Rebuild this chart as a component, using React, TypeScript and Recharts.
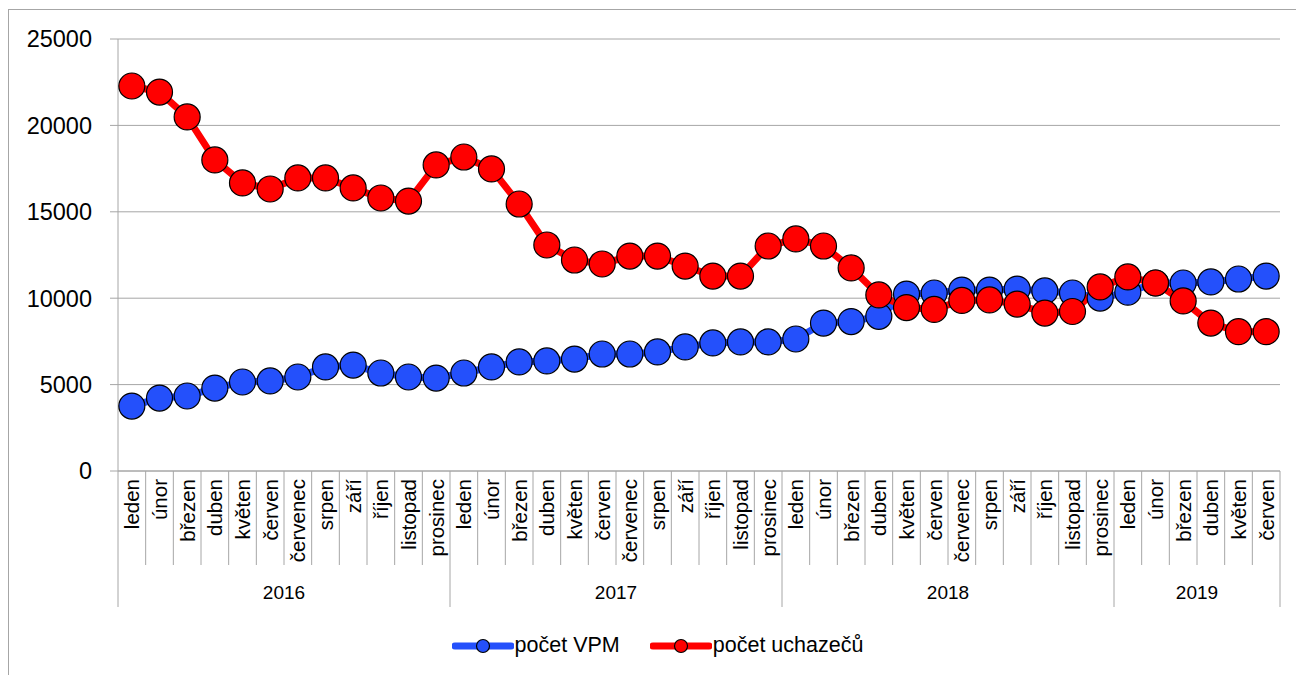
import React from "react";
import {
  ComposedChart,
  Line,
  CartesianGrid,
  XAxis,
  YAxis,
  Legend,
} from "recharts";

const years = ["2016", "2017", "2018", "2019"];
const monthsPerYear = [12, 12, 12, 6];
const monthNames = [
  "leden",
  "únor",
  "březen",
  "duben",
  "květen",
  "červen",
  "červenec",
  "srpen",
  "září",
  "říjen",
  "listopad",
  "prosinec",
];

// počet VPM
const vpm = [
  3760, 4220, 4340, 4800, 5150, 5210, 5440, 6020, 6130, 5670, 5440, 5380,
  5670, 6020, 6310, 6370, 6480, 6770, 6770, 6890, 7180, 7410, 7470, 7470,
  7640, 8560, 8650, 8950, 10240, 10300, 10470, 10470, 10530, 10420, 10300, 10010,
  10350, 10880, 10880, 10940, 11110, 11280,
];

// počet uchazečů
const uchazeci = [
  22280, 21930, 20490, 18000, 16670, 16320, 16960, 16960, 16380, 15800, 15620, 17710,
  18170, 17480, 15450, 13080, 12210, 11980, 12440, 12440, 11860, 11280, 11280, 13020,
  13430, 13020, 11750, 10190, 9460, 9350, 9870, 9900, 9660, 9140, 9230, 10650,
  11230, 10880, 9840, 8560, 8060, 8060,
];

const yTicks = [0, 5000, 10000, 15000, 20000, 25000];

const rows: any[] = [];
years.forEach((year, k) => {
  const count = monthsPerYear[k];
  for (let m = 0; m < count; m++) {
    const i = rows.length;
    rows.push({
      key: `${year}-${m}`,
      month: monthNames[m],
      year,
      count,
      first: m === 0,
      last: m === count - 1,
      vpm: vpm[i],
      uchazeci: uchazeci[i],
    });
  }
});

const W = 1296;
const H = 675;
const PLOT_LEFT = 118;
const PLOT_RIGHT = 1280;
const PLOT_TOP = 39;
const PLOT_BOTTOM = 471;
const Y_AXIS_W = 80;
const X_AXIS_H = 136;
const STEP = (PLOT_RIGHT - PLOT_LEFT) / rows.length;

const FONT = "'Liberation Sans', Arial, sans-serif";
const GRID = "#a6a6a6";
const BLUE = "#2450fb";
const RED = "#ff0000";

function MonthTick(props: any) {
  const { x, y, payload } = props;
  const row = rows[payload.index];
  if (!row) return null;
  const right = x + STEP / 2;
  const left = x - STEP / 2;
  return (
    <g>
      {payload.index === 0 && (
        <line x1={left} y1={y} x2={left} y2={y + 136} stroke={GRID} />
      )}
      <line
        x1={right}
        y1={y}
        x2={right}
        y2={y + (row.last ? 136 : 94)}
        stroke={GRID}
      />
      <text
        x={x}
        y={y + 8}
        transform={`rotate(-90 ${x} ${y + 8})`}
        textAnchor="end"
        dominantBaseline="central"
        fontFamily={FONT}
        fontSize={20.5}
        fill="#000"
      >
        {row.month}
      </text>
      {row.first && (
        <text
          x={left + (row.count * STEP) / 2}
          y={y + 121}
          textAnchor="middle"
          dominantBaseline="central"
          fontFamily={FONT}
          fontSize={19}
          fill="#000"
        >
          {row.year}
        </text>
      )}
    </g>
  );
}

function LegendContent() {
  const items = [
    { name: "počet VPM", color: BLUE },
    { name: "počet uchazečů", color: RED },
  ];
  return (
    <div
      style={{
        display: "flex",
        justifyContent: "center",
        gap: 30,
        fontFamily: FONT,
        fontSize: 21.5,
        color: "#000",
        paddingLeft: 19,
      }}
    >
      {items.map((it) => (
        <div key={it.name} style={{ display: "flex", alignItems: "center" }}>
          <svg width={62} height={20}>
            <line
              x1={3}
              y1={10}
              x2={59}
              y2={10}
              stroke={it.color}
              strokeWidth={7}
              strokeLinecap="round"
            />
            <circle cx={31} cy={10} r={6.5} fill={it.color} stroke="#000" strokeWidth={1.2} />
          </svg>
          <span style={{ marginLeft: 1 }}>{it.name}</span>
        </div>
      ))}
    </div>
  );
}

export default function App() {
  return (
    <div
      style={{
        position: "absolute",
        left: 0,
        top: 0,
        width: W,
        height: H,
        overflow: "hidden",
        background: "#fff",
      }}
    >
      <div
        style={{
          position: "absolute",
          left: 8,
          top: 9,
          width: W + 40,
          height: H + 40,
          border: "1px solid #a6a6a6",
        }}
      />
      <div style={{ position: "absolute", left: 0, top: 0 }}>
        <ComposedChart
          width={W}
          height={H}
          data={rows}
          margin={{
            top: PLOT_TOP,
            right: W - PLOT_RIGHT,
            left: PLOT_LEFT - Y_AXIS_W,
            bottom: H - PLOT_BOTTOM - X_AXIS_H,
          }}
        >
          <CartesianGrid vertical={false} stroke={GRID} strokeWidth={1} />
          <XAxis
            dataKey="key"
            scale="band"
            interval={0}
            height={X_AXIS_H}
            tickSize={0}
            tickMargin={0}
            tickLine={false}
            axisLine={{ stroke: GRID }}
            tick={<MonthTick />}
          />
          <YAxis
            width={Y_AXIS_W}
            domain={[0, 25000]}
            ticks={yTicks}
            interval={0}
            tickSize={8}
            tickMargin={18}
            axisLine={{ stroke: GRID }}
            tickLine={{ stroke: GRID }}
            tick={{ fontFamily: FONT, fontSize: 23.5, fill: "#000" }}
          />
          <Legend
            verticalAlign="middle"
            align="center"
            layout="horizontal"
            wrapperStyle={{ top: 633, left: 0, width: W }}
            content={<LegendContent />}
          />
          <Line
            type="linear"
            dataKey="vpm"
            name="počet VPM"
            stroke={BLUE}
            strokeWidth={7}
            dot={{ r: 13, fill: BLUE, stroke: "#000", strokeWidth: 1.2 }}
            activeDot={false}
            isAnimationActive={false}
          />
          <Line
            type="linear"
            dataKey="uchazeci"
            name="počet uchazečů"
            stroke={RED}
            strokeWidth={7}
            dot={{ r: 13, fill: RED, stroke: "#000", strokeWidth: 1.2 }}
            activeDot={false}
            isAnimationActive={false}
          />
        </ComposedChart>
      </div>
    </div>
  );
}
